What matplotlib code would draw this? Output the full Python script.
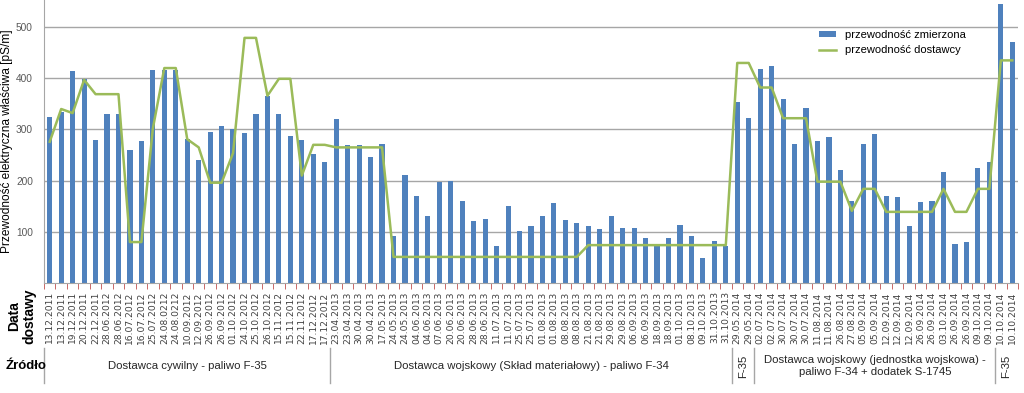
import numpy as np
import matplotlib
matplotlib.use("Agg")
import matplotlib.pyplot as plt
import matplotlib.transforms as mtransforms

plt.rcParams['font.family'] = ['Liberation Sans', 'DejaVu Sans']

# daty dostaw (os X)
dates = [
    "13.12.2011", "13.12.2011", "19.12.2011", "20.12.2011", "22.12.2011",
    "28.06.2012", "28.06.2012", "16.07.2012", "16.07.2012", "25.07.2012",
    "24.08.0212", "24.08.0212", "10.09.2012", "12.09.2012", "26.09.2012",
    "26.09.2012", "01.10.2012", "24.10.2012", "25.10.2012", "26.10.2012",
    "15.11.2012", "15.11.2012", "22.11.2012", "17.12.2012", "17.12.2012",
    "23.04.2013", "23.04.2013", "30.04.2013", "30.04.2013", "17.05.2013",
    "24.05.2013", "24.05.2013", "04.06.2013", "04.06.2013", "07.06.2013",
    "20.06.2013", "20.06.2013", "28.06.2013", "28.06.2013", "11.07.2013",
    "11.07.2013", "25.07.2013", "25.07.2013", "01.08.2013", "01.08.2013",
    "08.08.2013", "08.08.2013", "21.08.2013", "21.08.2013", "29.08.2013",
    "29.08.2013", "06.09.2013", "06.09.2013", "18.09.2013", "18.09.2013",
    "01.10.2013", "08.10.2013", "09.10.2013", "31.10.2013", "31.10.2013",
    "29.05.2014", "29.05.2014",
    "02.07.2014", "02.07.2014", "30.07.2014", "30.07.2014", "30.07.2014",
    "11.08.2014", "11.08.2014", "26.08.2014", "27.08.2014", "05.09.2014",
    "05.09.2014", "12.09.2014", "12.09.2014", "12.09.2014", "26.09.2014",
    "26.09.2014", "03.10.2014", "26.09.2014", "26.09.2014", "09.10.2014",
    "09.10.2014", "10.10.2014", "10.10.2014",
]

# przewodnosc zmierzona [pS/m]
measured = [
    325, 335, 414, 399, 280, 330, 330, 260, 278, 416,
    416, 416, 281, 240, 296, 306, 300, 293, 330, 366,
    330, 288, 280, 252, 236, 320, 270, 270, 246, 272,
    92, 211, 170, 131, 198, 200, 160, 122, 125, 73,
    150, 101, 112, 130, 156, 124, 118, 111, 105, 130,
    108, 108, 88, 73, 88, 114, 92, 49, 82, 72,
    354, 323, 418, 425, 359, 272, 342, 277, 285, 220,
    160, 272, 292, 170, 169, 111, 158, 160, 216, 76,
    80, 225, 236, 546, 471,
]

# przewodnosc deklarowana przez dostawce [pS/m]
supplier = [
    276, 340, 332, 397, 369, 369, 369, 80, 80, 302,
    420, 420, 281, 265, 196, 196, 254, 479, 479, 366,
    399, 399, 210, 270, 270, 265, 265, 265, 265, 265,
    51, 51, 51, 51, 51, 51, 51, 51, 51, 51,
    51, 51, 51, 51, 51, 51, 51, 74, 74, 74,
    74, 74, 74, 74, 74, 74, 74, 74, 74, 74,
    430, 430, 382, 382, 322, 322, 322, 198, 198, 198,
    141, 184, 184, 139, 139, 139, 139, 139, 184, 139,
    139, 184, 184, 435, 435,
]

# grupy zrodel: (pierwszy indeks, ostatni indeks, opis, obrot)
sources = [
    (0, 24, "Dostawca cywilny - paliwo F-35", 0),
    (25, 59, "Dostawca wojskowy (Skład materiałowy) - paliwo F-34", 0),
    (60, 61, "F-35", 90),
    (62, 82, "Dostawca wojskowy (jednostka wojskowa) -\npaliwo F-34 + dodatek S-1745", 0),
    (83, 84, "F-35", 90),
]

BLUE = '#4F81BD'
GREEN = '#9BBB59'
GRID = '#A6A6A6'

fig = plt.figure(figsize=(10.24, 3.93), dpi=100)
ax = fig.add_axes([44 / 1024, 110 / 393, 974 / 1024, 283 / 393])

x = np.arange(len(dates))
bars = ax.bar(x, measured, width=0.45, color=BLUE, label='przewodność zmierzona', zorder=2)
line, = ax.plot(x, supplier, color=GREEN, lw=1.8, label='przewodność dostawcy', zorder=3)

ax.set_xlim(-0.5, len(dates) - 0.5)
ax.set_ylim(0, 553)
ax.set_yticks([100, 200, 300, 400, 500])
ax.yaxis.grid(True, color=GRID, lw=1.0, zorder=0)
ax.set_axisbelow(True)
ax.tick_params(axis='y', length=0, pad=8, labelsize=7.3, labelcolor='#595959')

ax.set_xticks(x)
ax.set_xticklabels(dates, rotation=90, fontsize=6.6, color='#404040',
                   family=['DejaVu Sans'])
ax.set_xticks(np.arange(-0.5, len(dates)), minor=True)
ax.tick_params(axis='x', which='major', length=0, pad=6)
ax.tick_params(axis='x', which='minor', length=4, color='#C0504D')

for s in ['top', 'right']:
    ax.spines[s].set_visible(False)
ax.spines['left'].set_color(GRID)
ax.spines['bottom'].set_color(GRID)

ax.set_ylabel('Przewodność elektryczna właściwa [pS/m]', fontsize=8.6)
ax.yaxis.set_label_coords(-0.0315, 0.5)

# wiersz "Źródło" pod osia
tr = mtransforms.blended_transform_factory(ax.transData, ax.transAxes)
y0 = (283 - 348) / 283
y1 = (283 - 383) / 283
ymid = (283 - 366) / 283
for first, last, label, rot in sources:
    ax.plot([first - 0.5, first - 0.5], [y0, y1], transform=tr, color=GRID,
            lw=1.0, clip_on=False)
    ax.text((first + last) / 2, ymid, label, transform=tr, ha='center', va='center',
            rotation=rot, fontsize=8.2, color='#262626', linespacing=1.3)

fig.text(22 / 1024, 1 - 316 / 393, 'Data\ndostawy', rotation=90, ha='center',
         va='center', fontsize=10, fontweight='bold', linespacing=1.1)
fig.text(26 / 1024, 1 - 366 / 393, 'Źródło', ha='center', va='center',
         fontsize=9.5, fontweight='bold')

ax.legend(handles=[bars, line], loc='upper left', bbox_to_anchor=(0.785, 0.93),
          frameon=False, fontsize=8, handlelength=1.6, handleheight=0.4,
          labelspacing=0.5)

fig.savefig('out.png', dpi=100)
